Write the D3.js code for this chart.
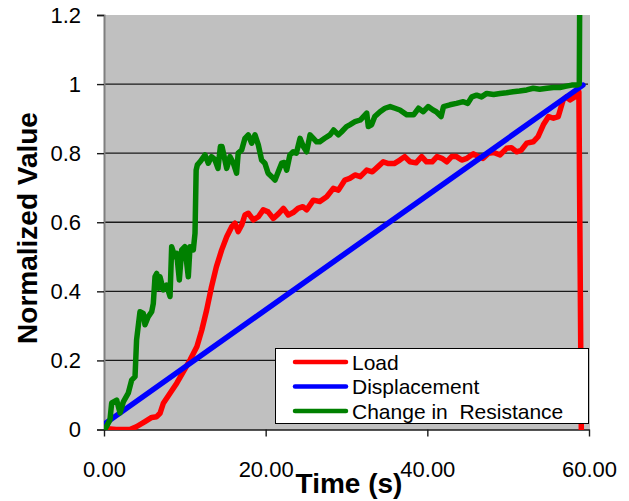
<!DOCTYPE html>
<html>
<head>
<meta charset="utf-8">
<script src="https://cdn.jsdelivr.net/npm/d3@7"></script>
<style>
  html, body { margin: 0; padding: 0; background: #ffffff; }
  svg { display: block; }
  text { font-family: "Liberation Sans", Arial, sans-serif; }
</style>
</head>
<body>
<svg id="chart" width="629" height="501"></svg>
<script>
// ---- data ----
const xTicks = [0, 20, 40, 60];
const xTickLabels = ["0.00", "20.00", "40.00", "60.00"];
const yTicks = [0, 0.2, 0.4, 0.6, 0.8, 1, 1.2];
const yTickLabels = ["0", "0.2", "0.4", "0.6", "0.8", "1", "1.2"];
const seriesNames = ["Load", "Displacement", "Change in  Resistance"];
const seriesColors = ["#ff0000", "#0000ff", "#008000"];

const loadTime = [0.1,1.5,3.2,4.0,5.07,5.9,6.52,6.93,7.34,8.17,9.0,9.8,10.64,11.5,12.1,12.7,13.3,13.9,14.56,15.18,15.8,16.2,16.6,17.03,17.44,17.85,18.47,19.1,19.7,20.3,20.95,21.6,22.2,22.8,23.4,24.0,24.6,25.07,25.9,26.7,27.55,28.37,29.0,29.8,30.4,31.05,31.7,32.5,33.2,33.9,34.55,35.2,35.9,36.6,37.2,37.85,38.6,39.3,39.9,40.6,41.2,41.8,42.4,43.0,43.6,44.25,44.9,45.7,46.3,46.9,47.55,48.2,49.0,49.8,50.4,51.05,51.6,52.3,53.1,53.7,54.35,55.0,55.6,56.2,56.8,57.2,57.65,58.25,58.75,59.05];
const loadValue = [0.003,0,0,0.008,0.023,0.035,0.037,0.047,0.076,0.105,0.134,0.167,0.201,0.24,0.288,0.346,0.413,0.471,0.52,0.558,0.587,0.597,0.573,0.592,0.621,0.626,0.607,0.616,0.636,0.63,0.611,0.625,0.64,0.621,0.628,0.64,0.645,0.636,0.664,0.66,0.674,0.698,0.693,0.722,0.727,0.737,0.732,0.751,0.746,0.761,0.775,0.77,0.77,0.78,0.79,0.775,0.772,0.79,0.775,0.775,0.79,0.785,0.775,0.79,0.79,0.78,0.785,0.798,0.79,0.785,0.8,0.802,0.795,0.814,0.816,0.804,0.808,0.829,0.833,0.848,0.882,0.906,0.901,0.906,0.954,0.963,0.954,0.963,0.978,0];

const dispTime = [0, 59.25];
const dispValue = [0.015, 0.997];

const resTime = [0.1,0.74,0.95,1.57,1.98,2.39,3.0,3.42,3.84,4.03,4.45,4.86,5.07,5.48,5.9,6.1,6.31,6.52,6.72,6.93,7.34,7.75,8.17,8.37,8.78,8.99,9.32,9.61,10.0,10.43,10.64,11.05,11.26,11.4,11.55,11.88,12.5,12.9,13.3,13.7,14.1,14.4,14.6,15.18,15.59,16.0,16.4,16.6,17.03,17.44,17.85,18.27,18.68,19.09,19.5,19.9,20.3,20.75,21.16,21.56,21.98,22.3,22.6,23.0,23.4,23.8,24.25,24.66,25.07,25.49,25.9,26.3,26.7,27.3,27.96,28.4,29.0,29.4,30.0,30.4,31.05,31.7,32.3,32.5,32.7,33.1,33.5,34.15,34.76,35.4,36.0,36.6,37.45,38.3,38.9,39.5,40.1,40.7,41.1,41.7,42.0,42.8,43.6,44.45,45.0,45.5,46.1,46.7,47.35,48.2,49.0,49.8,50.6,51.4,52.3,53.1,53.9,54.8,55.6,56.4,57.2,57.86,58.5,58.8,58.85];
const resValue = [0,0.028,0.077,0.085,0.048,0.08,0.105,0.143,0.153,0.259,0.341,0.336,0.303,0.327,0.341,0.365,0.442,0.452,0.409,0.442,0.404,0.418,0.385,0.529,0.5,0.51,0.433,0.52,0.529,0.442,0.529,0.52,0.568,0.751,0.766,0.775,0.795,0.771,0.79,0.782,0.756,0.819,0.819,0.756,0.79,0.771,0.742,0.8,0.809,0.843,0.853,0.829,0.853,0.824,0.78,0.771,0.742,0.732,0.722,0.746,0.771,0.773,0.751,0.795,0.804,0.8,0.843,0.819,0.804,0.853,0.843,0.833,0.833,0.843,0.853,0.867,0.853,0.862,0.877,0.882,0.891,0.896,0.911,0.916,0.877,0.882,0.906,0.92,0.93,0.935,0.93,0.925,0.911,0.911,0.93,0.92,0.935,0.925,0.92,0.906,0.935,0.94,0.944,0.949,0.944,0.963,0.968,0.963,0.973,0.97,0.973,0.975,0.978,0.98,0.983,0.988,0.985,0.988,0.99,0.99,0.994,0.997,0.997,1.0,1.25];

// ---- layout ----
const plot = { left: 104, right: 590, top: 15, bottom: 430 };
const x = d3.scaleLinear().domain([0, 60]).range([plot.left, 589]);
const y = d3.scaleLinear().domain([0, 1.2]).range([429.5, plot.top]);

const svg = d3.select("#chart");

svg.append("defs").append("clipPath").attr("id", "clip")
  .append("rect")
  .attr("x", plot.left).attr("y", plot.top)
  .attr("width", plot.right - plot.left).attr("height", plot.bottom - plot.top);

// plot background
svg.append("rect")
  .attr("x", plot.left).attr("y", plot.top)
  .attr("width", plot.right - plot.left).attr("height", plot.bottom - plot.top)
  .attr("fill", "#c0c0c0");

// gridlines
svg.append("g")
  .selectAll("line")
  .data(yTicks.filter(v => v > 0 && v < 1.2))
  .join("line")
  .attr("x1", plot.left).attr("x2", 588)
  .attr("y1", d => y(d)).attr("y2", d => y(d))
  .attr("stroke", "#1a1a1a").attr("stroke-width", 1.4);

// y axis
const yAxis = d3.axisLeft(y).tickValues(yTicks)
  .tickFormat((d, i) => yTickLabels[i]).tickSize(7).tickPadding(16);
const gy = svg.append("g").attr("transform", `translate(${plot.left},0)`).call(yAxis);
gy.select(".domain").attr("stroke", "#7f7f7f").attr("stroke-width", 2);
gy.selectAll(".tick line").attr("stroke", "#1a1a1a").attr("stroke-width", 1.4);
gy.selectAll(".tick text").attr("font-size", 22).attr("fill", "#000")
  .attr("font-family", "Liberation Sans, Arial, sans-serif");

// x axis
const xAxis = d3.axisBottom(x).tickValues(xTicks)
  .tickFormat((d, i) => xTickLabels[i]).tickSize(7).tickPadding(25).tickSizeOuter(0);
const gx = svg.append("g").attr("transform", `translate(0,${429.5})`).call(xAxis);
gx.select(".domain").attr("stroke", "#1a1a1a").attr("stroke-width", 1.4);
gx.selectAll(".tick line").attr("stroke", "#1a1a1a").attr("stroke-width", 1.4);
gx.selectAll(".tick text").attr("font-size", 22).attr("fill", "#000")
  .attr("font-family", "Liberation Sans, Arial, sans-serif");

// series
const series = [
  { t: loadTime, v: loadValue },
  { t: dispTime, v: dispValue },
  { t: resTime, v: resValue }
];
const line = d3.line().x(d => x(d[0])).y(d => y(d[1]));
const lg = svg.append("g").attr("clip-path", "url(#clip)");
series.forEach((s, i) => {
  const pts = s.t.map((t, k) => [t, s.v[k]]);
  lg.append("path")
    .datum(pts)
    .attr("d", line)
    .attr("fill", "none")
    .attr("stroke", seriesColors[i])
    .attr("stroke-width", 5.5)
    .attr("stroke-linejoin", "round")
    .attr("stroke-linecap", "round");
});

// legend
const legend = svg.append("g");
legend.append("rect")
  .attr("x", 275.5).attr("y", 348.5).attr("width", 313).attr("height", 75)
  .attr("fill", "#ffffff").attr("stroke", "#000").attr("stroke-width", 1);
seriesNames.forEach((name, i) => {
  const yy = 362 + i * 24.5;
  legend.append("line")
    .attr("x1", 295).attr("x2", 346).attr("y1", yy).attr("y2", yy)
    .attr("stroke", seriesColors[i]).attr("stroke-width", 4.5).attr("stroke-linecap", "round");
  legend.append("text")
    .attr("x", 352).attr("y", yy).attr("dy", "0.36em")
    .attr("font-size", 21).attr("fill", "#000")
    .style("white-space", "pre")
    .text(name);
});

// axis titles
svg.append("text")
  .attr("x", 349).attr("y", 493)
  .attr("text-anchor", "middle")
  .attr("font-size", 28).attr("font-weight", "bold").attr("fill", "#000")
  .text("Time (s)");

svg.append("text")
  .attr("transform", "translate(37,228) rotate(-90)")
  .attr("text-anchor", "middle")
  .attr("font-size", 28).attr("font-weight", "bold").attr("fill", "#000")
  .text("Normalized Value");
</script>
</body>
</html>
